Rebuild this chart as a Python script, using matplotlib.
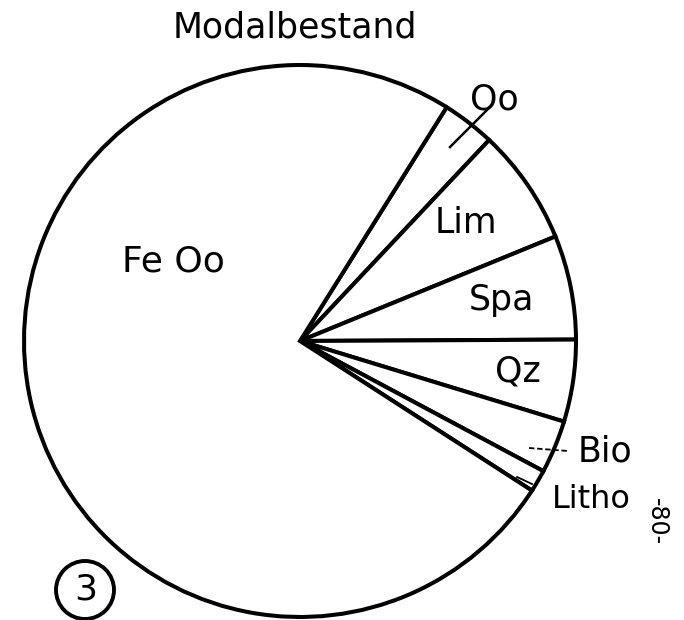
import matplotlib
matplotlib.use('Agg')
from matplotlib import pyplot as plt
from matplotlib.patches import Circle

# modal composition (percent), clockwise from the Oo wedge
labels = ['Oo', 'Lim', 'Spa', 'Qz', 'Bio', 'Litho', 'Fe Oo']
values = [3.1, 6.8, 6.1, 4.8, 3.1, 1.3, 74.8]

# label anchor points (pixels, x / baseline y from top)
label_x = [494, 466, 501, 518, 605, 591, 173]
label_y = [110, 233, 310, 382, 462, 508, 272]
label_size = [25, 25, 25, 25, 25, 23, 26]

H = 620
fig = plt.figure(figsize=(6.84, 6.2), dpi=100)
ax = fig.add_axes([0, 0, 1, 1])

ax.pie(values, startangle=57.9, counterclock=False,
       center=(300, H - 341), radius=276,
       wedgeprops=dict(facecolor='white', edgecolor='black', linewidth=2.9))

for lab, x, y, s in zip(labels, label_x, label_y, label_size):
    ax.text(x, H - y, lab, ha='center', va='baseline', fontsize=s)

# leader lines
ax.plot([450, 490], [H - 147, H - 107], color='black', lw=1.8)
ax.plot([529, 568], [H - 448, H - 451], color='black', lw=1.3, ls=(0, (3, 1.5)))
ax.plot([517, 532], [H - 477, H - 484], color='black', lw=1.3)

ax.text(295, H - 37, 'Modalbestand', ha='center', va='baseline', fontsize=25)
ax.text(657, H - 522, '-80-', ha='center', va='center', fontsize=17, rotation=270)

# circled plate number
ax.add_patch(Circle((85, H - 590), 29, facecolor='none', edgecolor='black', lw=2.8))
ax.text(86, H - 590, '3', ha='center', va='center', fontsize=26)

ax.set_xlim(0, 684)
ax.set_ylim(0, H)
ax.set_aspect('equal')
ax.axis('off')

fig.savefig('out.png', dpi=100)
